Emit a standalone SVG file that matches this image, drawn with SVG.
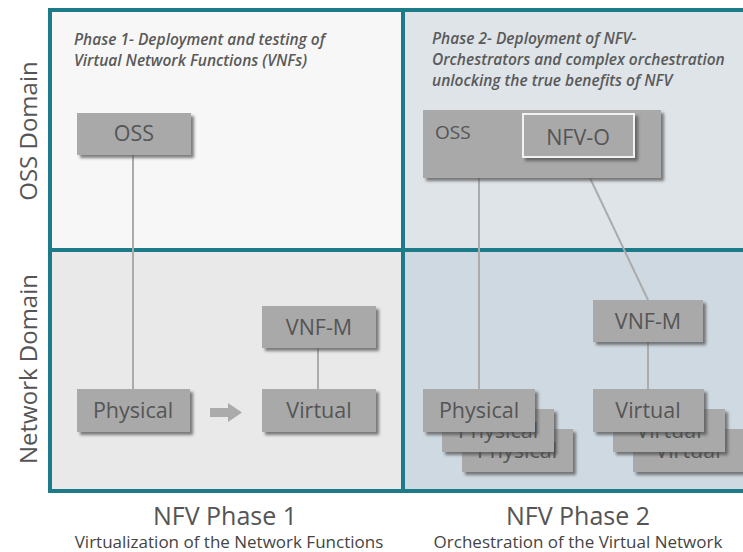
<svg xmlns="http://www.w3.org/2000/svg" width="743" height="552" viewBox="0 0 743 552">
<defs>
<filter id="sh" x="-10%" y="-10%" width="130%" height="140%">
<feDropShadow dx="3" dy="3" stdDeviation="1.5" flood-color="#4a4a4a" flood-opacity="0.7"/>
</filter>
</defs>
<style>
.box{fill:#a9a9a9;filter:url(#sh)}
.lbl{font-family:"Open Sans","Liberation Sans",sans-serif;font-size:21.5px;fill:#555;text-anchor:middle}
.dom{font-family:"Open Sans","Liberation Sans",sans-serif;font-size:24px;fill:#555;text-anchor:middle}
.ph{font-family:"Open Sans","Liberation Sans",sans-serif;font-size:15.5px;font-style:italic;font-weight:600;fill:#5a5a5a}
.ttl{font-family:"Open Sans","Liberation Sans",sans-serif;font-size:25px;fill:#555;text-anchor:middle}
.sub{font-family:"Open Sans","Liberation Sans",sans-serif;font-size:17px;fill:#444;text-anchor:middle}
.con{stroke:#ababab;stroke-width:2;fill:none}
.frm{stroke:#1d7a88;stroke-width:4;fill:none}
</style>
<rect width="743" height="552" fill="#ffffff"/>
<g id="quadrants">
<rect x="50" y="10" width="353" height="240" fill="#f7f7f7"/>
<rect x="403" y="10" width="340" height="240" fill="#dee4e8"/>
<rect x="50" y="250" width="353" height="241" fill="#e9e9e9"/>
<rect x="403" y="250" width="340" height="241" fill="#cfd9e1"/>
</g>
<g id="frame" class="frm">
<line x1="48" y1="10" x2="743" y2="10"/>
<line x1="48" y1="491" x2="743" y2="491"/>
<line x1="50" y1="8" x2="50" y2="493"/>
<line x1="50" y1="250" x2="743" y2="250"/>
<line x1="403" y1="10" x2="403" y2="491"/>
</g>
<g id="axis-labels">
<text class="dom" transform="translate(37,131) rotate(-90)">OSS Domain</text>
<text class="dom" transform="translate(37,369) rotate(-90)">Network Domain</text>
<text class="ttl" x="225" y="525">NFV Phase 1</text>
<text class="sub" x="229" y="548">Virtualization of the Network Functions</text>
<text class="ttl" x="578" y="525">NFV Phase 2</text>
<text class="sub" x="578" y="548">Orchestration of the Virtual Network</text>
</g>
<g id="phase-notes">
<text class="ph" x="74" y="45">Phase 1- Deployment and testing of</text>
<text class="ph" x="74" y="66">Virtual Network Functions (VNFs)</text>
<text class="ph" x="432" y="44">Phase 2- Deployment of NFV-</text>
<text class="ph" x="432" y="65">Orchestrators and complex orchestration</text>
<text class="ph" x="432" y="86">unlocking the true benefits of NFV</text>
</g>
<g id="connectors">
<line class="con" x1="133" y1="155" x2="133" y2="389"/>
<line class="con" x1="318" y1="348" x2="318" y2="389"/>
<line class="con" x1="479" y1="178" x2="479" y2="389"/>
<line class="con" x1="580" y1="157" x2="648" y2="300"/>
<line class="con" x1="648" y1="342" x2="648" y2="389"/>
<path d="M210 408 H228 V403 L242 412.5 L228 422 V417 H210 Z" fill="#ababab"/>
</g>
<g id="oss-1">
<rect class="box" x="77" y="113" width="114" height="42"/>
<text class="lbl" x="134" y="141">OSS</text>
</g>
<g id="physical-1">
<rect class="box" x="77" y="389" width="113" height="43"/>
<text class="lbl" x="133" y="418">Physical</text>
</g>
<g id="vnfm-1">
<rect class="box" x="262" y="306" width="114" height="42"/>
<text class="lbl" x="319" y="335">VNF-M</text>
</g>
<g id="virtual-1">
<rect class="box" x="262" y="389" width="114" height="43"/>
<text class="lbl" x="319" y="418">Virtual</text>
</g>
<g id="oss-2">
<rect class="box" x="423" y="110" width="238" height="68"/>
<text class="lbl" x="435" y="139" style="text-anchor:start;font-size:19px">OSS</text>
</g>
<g id="nfvo">
<rect x="523" y="114" width="111" height="43" fill="#a9a9a9" stroke="#f2f2f2" stroke-width="2" filter="url(#sh)"/>
<text class="lbl" x="578" y="145">NFV-O</text>
</g>
<g id="vnfm-2">
<rect class="box" x="593" y="300" width="110" height="42"/>
<text class="lbl" x="648" y="329">VNF-M</text>
</g>
<g id="physical-3">
<rect class="box" x="462" y="429" width="111" height="43"/>
<text class="lbl" x="517" y="458">Physical</text>
</g>
<g id="physical-2">
<rect class="box" x="442" y="409" width="112" height="43"/>
<text class="lbl" x="498" y="438">Physical</text>
</g>
<g id="physical-front">
<rect class="box" x="423" y="389" width="112" height="43"/>
<text class="lbl" x="479" y="418">Physical</text>
</g>
<g id="virtual-3">
<rect class="box" x="633" y="429" width="115" height="43"/>
<text class="lbl" x="688" y="458">Virtual</text>
</g>
<g id="virtual-2">
<rect class="box" x="613" y="409" width="112" height="43"/>
<text class="lbl" x="669" y="438">Virtual</text>
</g>
<g id="virtual-front">
<rect class="box" x="593" y="389" width="111" height="43"/>
<text class="lbl" x="648" y="418">Virtual</text>
</g>
</svg>
